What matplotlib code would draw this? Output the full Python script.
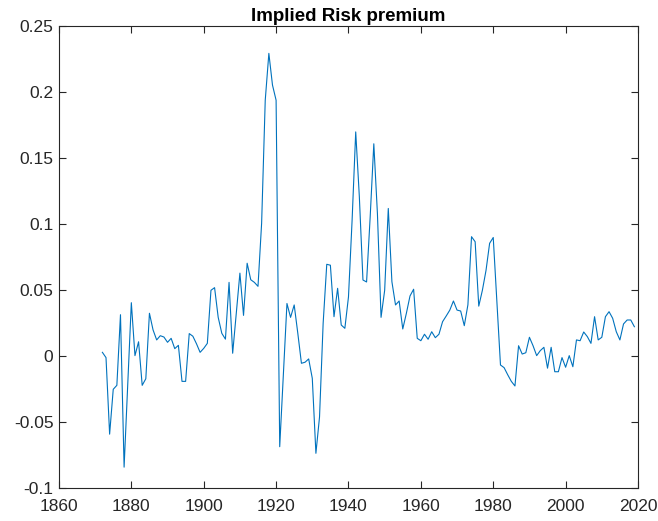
import numpy as np
import matplotlib
matplotlib.use("Agg")
import matplotlib.pyplot as plt

plt.rcParams["font.family"] = ["Liberation Sans", "DejaVu Sans"]

# implied risk premium, annual
first_year = 1872
premium = [
    0.003, -0.001, -0.059, -0.025, -0.022, 0.0315, -0.084, -0.022, 0.0406,  # 1872-1880
    0.0005, 0.011, -0.022, -0.017, 0.0326, 0.020, 0.0124, 0.0156, 0.0146, 0.0106,  # 1881-1890
    0.0136, 0.0058, 0.0083, -0.019, -0.019, 0.0172, 0.0152, 0.0095, 0.003, 0.006,  # 1891-1900
    0.0098, 0.050, 0.052, 0.0295, 0.0174, 0.013, 0.056, 0.0023, 0.0326, 0.063,  # 1901-1910
    0.031, 0.0705, 0.058, 0.056, 0.053, 0.1008, 0.194, 0.2295, 0.2055, 0.194,  # 1911-1920
    -0.0685, -0.014, 0.040, 0.0295, 0.0389, 0.0174, -0.0053, -0.0045, -0.002, -0.0167,  # 1921-1930
    -0.0735, -0.046, 0.025, 0.0697, 0.069, 0.030, 0.0515, 0.0237, 0.0212, 0.045,  # 1931-1940
    0.103, 0.170, 0.121, 0.0578, 0.0563, 0.1058, 0.161, 0.108, 0.0295, 0.050,  # 1941-1950
    0.112, 0.0565, 0.0389, 0.0419, 0.0207, 0.0326, 0.0457, 0.0508, 0.0136, 0.0118,  # 1951-1960
    0.0167, 0.0129, 0.0186, 0.0141, 0.0167, 0.0262, 0.0305, 0.035, 0.0419, 0.035,  # 1961-1970
    0.0343, 0.0232, 0.039, 0.0906, 0.0868, 0.038, 0.050, 0.065, 0.0856, 0.090,  # 1971-1980
    0.041, -0.0066, -0.0086, -0.014, -0.019, -0.0225, 0.008, 0.0017, 0.0027, 0.0144,  # 1981-1990
    0.008, 0.0005, 0.0043, 0.0068, -0.009, 0.0068, -0.0117, -0.0117, -0.001, -0.0083,  # 1991-2000
    0.0005, -0.0079, 0.0124, 0.0118, 0.0184, 0.0149, 0.0098, 0.030, 0.0124, 0.0144,  # 2001-2010
    0.030, 0.0338, 0.0288, 0.0186, 0.0124, 0.0245, 0.0275, 0.0275, 0.0224,  # 2011-2019
]
years = np.arange(first_year, first_year + len(premium))

fig = plt.figure(figsize=(6.58, 5.21), dpi=100)
ax = fig.add_axes([0.0896, 0.0628, 0.8800, 0.8867])
ax.plot(years, premium, color="#0072BD", linewidth=0.8)

ax.set_xlim(1860, 2020)
ax.set_ylim(-0.1, 0.25)
ax.set_xticks(np.arange(1860, 2021, 20))
ax.set_yticks([-0.1, -0.05, 0, 0.05, 0.1, 0.15, 0.2, 0.25])
ax.set_yticklabels(["-0.1", "-0.05", "0", "0.05", "0.1", "0.15", "0.2", "0.25"])
ax.tick_params(direction="in", top=True, right=True, length=5, width=0.8,
               color="#262626", labelsize=12.5, labelcolor="#262626")
ax.tick_params(axis="x", pad=8)
ax.tick_params(axis="y", pad=4)
for spine in ax.spines.values():
    spine.set_color("#262626")
    spine.set_linewidth(0.8)
ax.set_title("Implied Risk premium", fontsize=13.5, fontweight="bold", pad=4)

plt.savefig("out.png", dpi=100)
